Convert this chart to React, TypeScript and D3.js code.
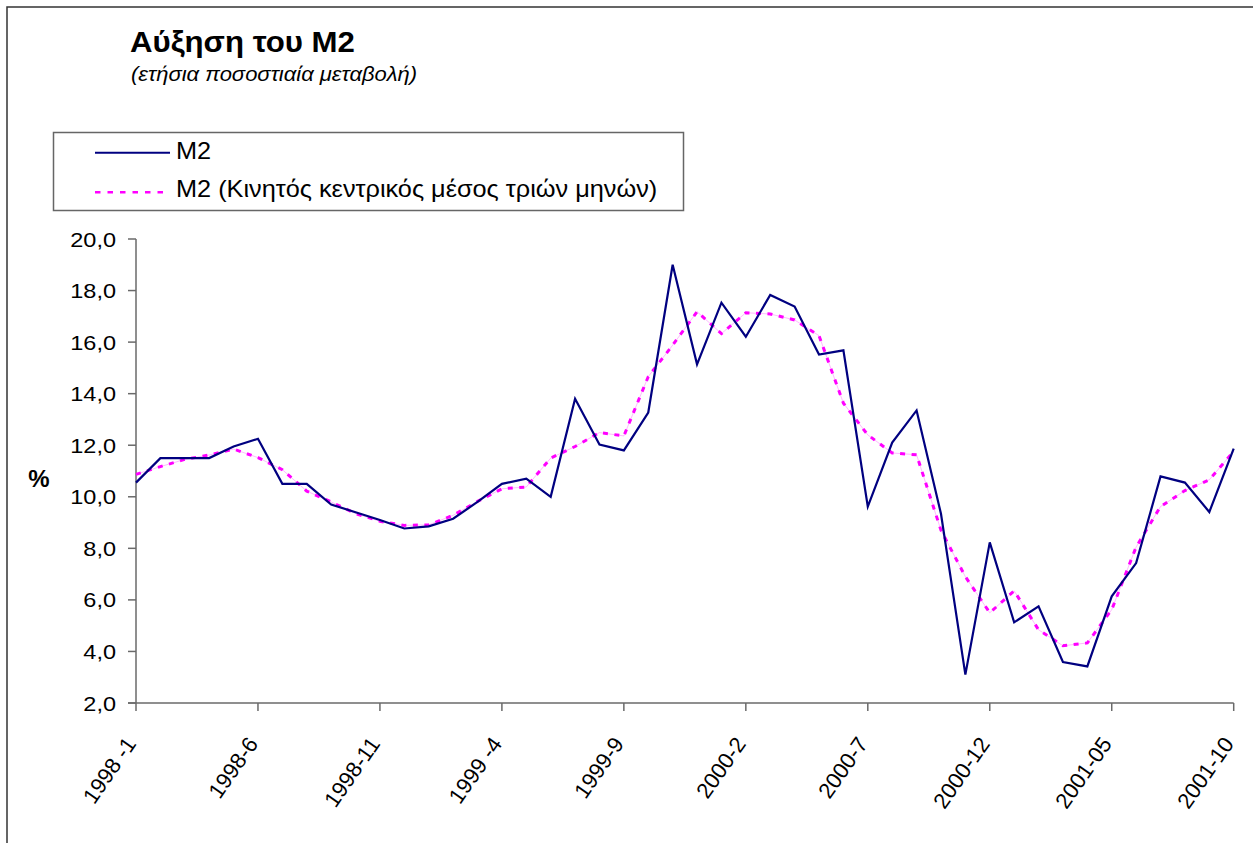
import React from "react";
import * as d3 from "d3";

// Annual growth of M2 (%), monthly, 1998-1 … 2001-10
const m2Values = [
  10.55, 11.5, 11.5, 11.5, 11.95, 12.25, 10.5, 10.5, 9.7, 9.4,
  9.1, 8.77, 8.85, 9.15, 9.8, 10.5, 10.7, 10.0, 13.8, 12.03,
  11.8, 13.27, 19.0, 15.14, 17.53, 16.21, 17.83, 17.38, 15.52, 15.68,
  9.62, 12.1, 13.35, 9.34, 3.1, 8.23, 5.13, 5.75, 3.59, 3.42,
  6.14, 7.43, 10.79, 10.55, 9.41, 11.87,
];

// Three-month centred moving average of M2 (%)
const m2MovingAvg = [
  10.87, 11.17, 11.45, 11.62, 11.85, 11.52, 11.05, 10.22, 9.8, 9.35,
  9.05, 8.89, 8.91, 9.28, 9.82, 10.31, 10.38, 11.5, 11.95, 12.49,
  12.36, 14.66, 15.88, 17.18, 16.33, 17.14, 17.09, 16.86, 16.25, 13.63,
  12.4, 11.7, 11.63, 8.7, 6.9, 5.5, 6.35, 4.84, 4.22, 4.33,
  5.62, 8.05, 9.62, 10.24, 10.66, 11.76,
];

// Category labels shown every fifth month
const xTickLabels = [
  "1998 -1", "1998-6", "1998-11", "1999 -4", "1999-9",
  "2000-2", "2000-7", "2000-12", "2001-05", "2001-10",
];
const xTickStep = 5;

const yTicks = [2, 4, 6, 8, 10, 12, 14, 16, 18, 20];

const seriesNames = ["M2", "M2 (Κινητός κεντρικός μέσος τριών μηνών)"];

const W = 1253;
const H = 843;
const FONT = "'Liberation Sans', Arial, Helvetica, sans-serif";

// Text with a slight horizontal stretch, positioned by its anchor point
function T(props: {
  x: number;
  y: number;
  sx?: number;
  size: number;
  anchor?: "start" | "end" | "middle";
  weight?: string;
  italic?: boolean;
  dy?: string;
  children: React.ReactNode;
}) {
  const { x, y, sx = 1, size, anchor = "start", weight, italic, dy, children } = props;
  return (
    <text
      transform={`translate(${x},${y}) scale(${sx},1)`}
      textAnchor={anchor}
      fontSize={size}
      fontWeight={weight}
      fontStyle={italic ? "italic" : undefined}
      dy={dy}
      fill="#000"
    >
      {children}
    </text>
  );
}

export default function App() {
  const x = d3.scaleLinear().domain([0, m2Values.length - 1]).range([136, 1233.7]);
  const y = d3.scaleLinear().domain([2, 20]).range([703, 239]);

  const line = d3
    .line<number>()
    .x((_, i) => x(i))
    .y((d) => y(d));

  const fmt = (v: number) => v.toFixed(1).replace(".", ",");
  const axisColor = "#6a6a6a";

  return (
    <div style={{ position: "absolute", left: 0, top: 0, width: W, height: H, overflow: "hidden", background: "#fff" }}>
      <svg width={W} height={H} style={{ display: "block" }} fontFamily={FONT}>
        <rect x={0} y={0} width={W} height={H} fill="#fff" />
        {/* outer frame */}
        <rect x={7} y={7} width={W + 20} height={H + 20} fill="none" stroke="#333" strokeWidth={1.5} />

        {/* titles */}
        <T x={130} y={52} size={30} sx={1.04} weight="bold">
          Αύξηση του Μ2
        </T>
        <T x={131} y={80.5} size={20} sx={1.1} italic>
          (ετήσια ποσοστιαία μεταβολή)
        </T>

        {/* legend */}
        <rect x={53.5} y={132.5} width={630} height={78} fill="#fff" stroke="#666" strokeWidth={1.5} />
        <line x1={95} x2={170} y1={152.7} y2={152.7} stroke="#000080" strokeWidth={2} />
        <T x={176} y={158.5} size={23} sx={1.1}>
          {seriesNames[0]}
        </T>
        <line x1={95} x2={170} y1={192.3} y2={192.3} stroke="#ff00ff" strokeWidth={2.5} strokeDasharray="5.5,7" />
        <T x={176} y={197} size={23} sx={1.1}>
          {seriesNames[1]}
        </T>

        {/* y axis */}
        <line x1={x(0)} x2={x(0)} y1={y(20)} y2={y(2)} stroke={axisColor} strokeWidth={1.5} />
        {yTicks.map((t) => (
          <g key={t}>
            <line x1={x(0) - 8} x2={x(0)} y1={y(t)} y2={y(t)} stroke={axisColor} strokeWidth={1.5} />
            <T x={116} y={y(t)} dy="0.36em" anchor="end" size={21} sx={1.12}>
              {fmt(t)}
            </T>
          </g>
        ))}
        <T x={39} y={478} dy="0.36em" anchor="middle" size={24} weight="bold">
          %
        </T>

        {/* x axis */}
        <line x1={x(0) - 8} x2={x(m2Values.length - 1)} y1={y(2)} y2={y(2)} stroke={axisColor} strokeWidth={1.5} />
        {xTickLabels.map((lab, k) => {
          const xi = x(k * xTickStep);
          return (
            <g key={lab}>
              <line x1={xi} x2={xi} y1={y(2)} y2={y(2) + 8} stroke={axisColor} strokeWidth={1.5} />
              <text
                transform={`translate(${xi + 1},${744}) rotate(-55)`}
                textAnchor="end"
                fontSize={22}
                fill="#000"
              >
                {lab}
              </text>
            </g>
          );
        })}

        {/* moving average: faint connecting line plus dotted stroke */}
        <path d={line(m2MovingAvg) ?? ""} fill="none" stroke="#ff00ff" strokeOpacity={0.35} strokeWidth={0.8} />
        <path d={line(m2MovingAvg) ?? ""} fill="none" stroke="#ff00ff" strokeWidth={3} strokeDasharray="5,6.5" />

        {/* M2 */}
        <path d={line(m2Values) ?? ""} fill="none" stroke="#000080" strokeWidth={2.2} strokeLinejoin="miter" />
      </svg>
    </div>
  );
}
